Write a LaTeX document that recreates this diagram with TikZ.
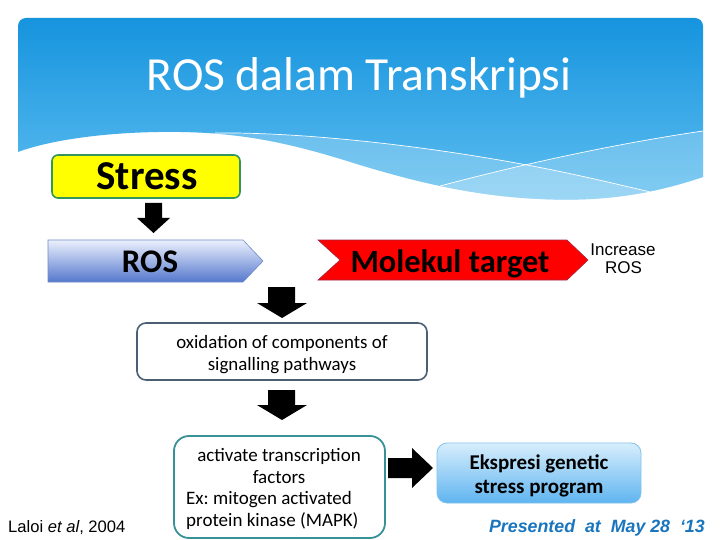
\documentclass[tikz,border=0pt]{standalone}
\usepackage{fontspec}
\setmainfont{Carlito}
\newfontfamily\arialf{Liberation Sans}
\frenchspacing
\definecolor{hdtop}{RGB}{22,148,222}
\definecolor{hdbot}{RGB}{95,190,240}
\definecolor{stressfill}{RGB}{255,255,0}
\definecolor{stressdraw}{RGB}{50,150,90}
\definecolor{rostop}{RGB}{235,240,252}
\definecolor{rosbot}{RGB}{85,120,205}
\definecolor{rosdraw}{RGB}{110,140,200}
\definecolor{molfill}{RGB}{255,0,0}
\definecolor{moldraw}{RGB}{160,40,70}
\definecolor{oxdraw}{RGB}{75,95,115}
\definecolor{actdraw}{RGB}{55,145,150}
\definecolor{ekstop}{RGB}{215,238,252}
\definecolor{eksbot}{RGB}{95,180,240}
\definecolor{eksdraw}{RGB}{130,195,235}
\definecolor{presblue}{RGB}{25,118,190}
\tikzset{
  txt/.style={inner sep=0pt, anchor=base},
  blockarrow/.style={fill=black, draw=none},
  wline/.style={draw=white, line width=0.7pt}
}
\begin{document}
\begin{tikzpicture}[x=1pt,y=-1pt]
\useasboundingbox (0,0) rectangle (720,540);
\fill[white] (0,0) rectangle (720,540);
% header
\def\hdpath{(18,152) [rounded corners=8]-- (18,18) -- (703,18) [sharp corners]-- (703,177)
  .. controls (650,195) and (600,202) .. (540,199)
  .. controls (470,196) and (410,180) .. (360,165)
  .. controls (300,146) and (250,133) .. (180,132)
  .. controls (110,131) and (50,140) .. (18,152) -- cycle}
\shade[top color=hdtop, bottom color=hdbot] \hdpath;
\begin{scope}
  \clip \hdpath;
  \fill[white, fill opacity=0.22] (200,133) .. controls (300,132) and (420,145) .. (527,165)
     .. controls (580,175) and (620,185) .. (655,193) -- (655,260) -- (200,260) -- cycle;
  \fill[white, fill opacity=0.22] (440,186) .. controls (500,170) and (600,146) .. (703,131)
     -- (703,260) -- (440,260) -- cycle;
  \draw[wline] (215,133) .. controls (300,132) and (420,145) .. (527,165)
     .. controls (580,175) and (620,185) .. (655,193);
  \draw[wline] (440,186) .. controls (500,170) and (600,146) .. (703,131);
\end{scope}
\node[txt, text=white, font=\fontsize{47.5}{56}\selectfont] (title) at (359,91) {ROS dalam Transkripsi};

% Stress
\draw[fill=stressfill, draw=stressdraw, line width=1.6pt, rounded corners=6] (52,155) rectangle (240,198);
\node[txt, font=\bfseries\fontsize{41}{48}\selectfont] (stress) at (147,190) {Stress};
% arrow 1
\path[blockarrow] (145,203) -- (162,203) -- (162,218) -- (170,218) -- (153.5,233) -- (137,218) -- (145,218) -- cycle;

% ROS
\shadedraw[top color=rostop, bottom color=rosbot, draw=rosdraw, line width=0.6pt]
  (48,240) -- (243,240) -- (263,261) -- (243,282) -- (48,282) -- cycle;
\node[txt, font=\bfseries\fontsize{33}{39}\selectfont] (ros) at (150,272) {ROS};

% Molekul target
\draw[fill=molfill, draw=moldraw, line width=0.6pt]
  (318,240) -- (567,240) -- (588,260) -- (567,280) -- (318,280) -- (340,260) -- cycle;
\node[txt, font=\bfseries\fontsize{32.5}{39}\selectfont] (mol) at (450,272) {Molekul target};

% Increase ROS
\node[txt, font=\arialf\fontsize{17}{20}\selectfont] (inc1) at (623,255) {Increase};
\node[txt, font=\arialf\fontsize{17}{20}\selectfont] (inc2) at (623.5,273) {ROS};

% arrow 2
\path[blockarrow] (268,287) -- (295,287) -- (295,303) -- (307,303) -- (282,318) -- (257,303) -- (268,303) -- cycle;

% oxidation box
\draw[fill=white, draw=oxdraw, line width=1.6pt, rounded corners=9] (137,323) rectangle (427,380);
\node[txt, font=\fontsize{18.9}{22}\selectfont] (ox1) at (282,348) {oxidation of components of};
\node[txt, font=\fontsize{18.9}{22}\selectfont] (ox2) at (282,370) {signalling pathways};

% arrow 3
\path[blockarrow] (268,390) -- (295,390) -- (295,405) -- (307,405) -- (282,420) -- (257,405) -- (268,405) -- cycle;

% activate box
\draw[fill=white, draw=actdraw, line width=1.8pt, rounded corners=15] (174,436) rectangle (385,538);
\node[txt, font=\fontsize{19}{22}\selectfont] (ac1) at (279,461) {activate transcription};
\node[txt, font=\fontsize{19}{22}\selectfont] (ac2) at (279,483) {factors};
\node[txt, anchor=base west, font=\fontsize{19}{22}\selectfont] (ac3) at (186,504) {Ex: mitogen activated};
\node[txt, anchor=base west, font=\fontsize{19}{22}\selectfont] (ac4) at (186,526) {protein kinase (MAPK)};

% arrow 4
\path[blockarrow] (388,458) -- (412,458) -- (412,448) -- (433,468) -- (412,488) -- (412,478) -- (388,478) -- cycle;

% Ekspresi box
\shadedraw[top color=ekstop, bottom color=eksbot, draw=eksdraw, line width=0.8pt, rounded corners=10] (437,443) rectangle (641,503);
\node[txt, font=\bfseries\fontsize{21}{25}\selectfont] (ek1) at (539,469) {Ekspresi genetic};
\node[txt, font=\bfseries\fontsize{21}{25}\selectfont] (ek2) at (539,493) {stress program};

% footer texts
\node[txt, anchor=base west, font=\arialf\fontsize{16.6}{20}\selectfont] (laloi) at (8,532) {Laloi \textit{et al}, 2004};
\node[txt, anchor=base east, text=presblue, font=\arialf\bfseries\itshape\fontsize{17.8}{21}\selectfont] (pres) at (705,532) {Presented\ \ at\ \ May 28\ \ ‘13};
\end{tikzpicture}
\end{document}
